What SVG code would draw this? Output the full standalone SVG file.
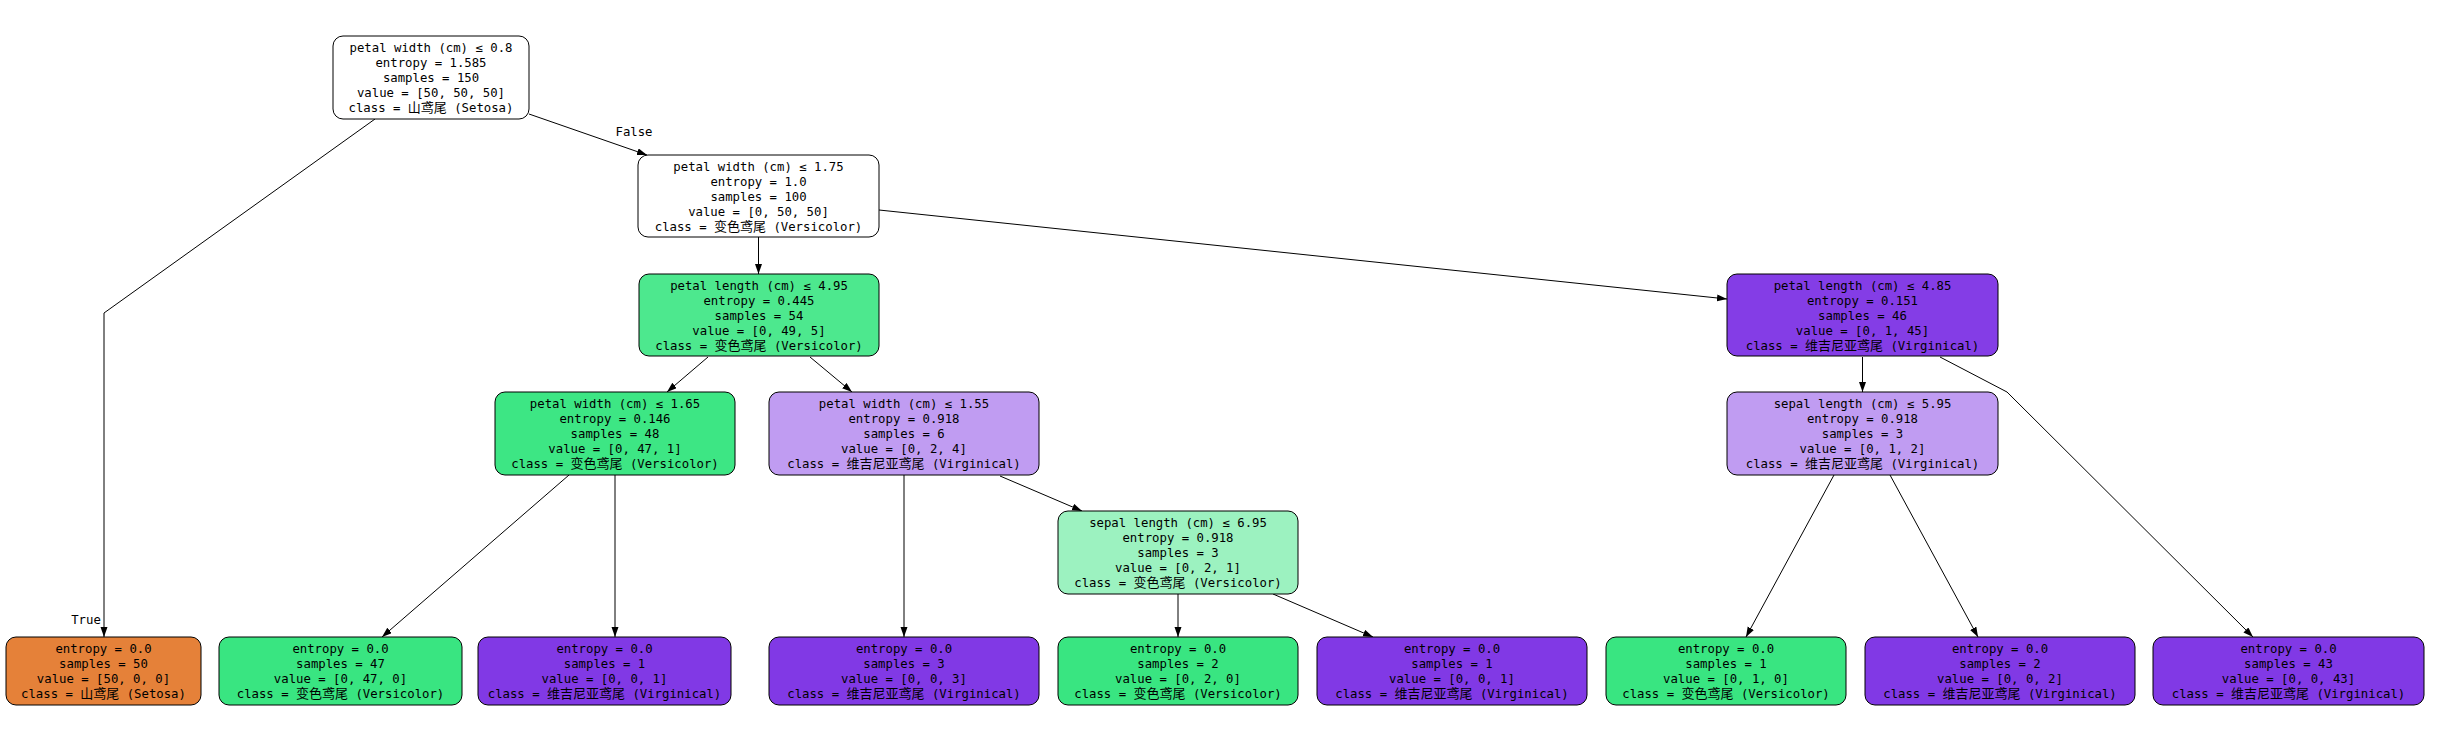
<svg xmlns="http://www.w3.org/2000/svg" width="2440" height="745" viewBox="0 0 2440 745">
<style>
.b{stroke:#000;stroke-width:1}
.t{font-family:"DejaVu Sans Mono","Liberation Mono","Noto Sans CJK SC",monospace;font-size:12.3px;text-anchor:middle;fill:#000}
.c{font-family:"Noto Sans CJK SC",sans-serif;font-size:13px}
.e{stroke:#000;stroke-width:1;fill:none;marker-end:url(#ah)}
</style>
<defs>
<marker id="ah" markerUnits="userSpaceOnUse" markerWidth="11" markerHeight="8" refX="10" refY="3.5" orient="auto"><path d="M0,0 L10,3.5 L0,7 z" fill="#000"/></marker>
</defs>
<rect width="2440" height="745" fill="#fff"/>
<g id="edges">
<line class="e" x1="529" y1="114" x2="647" y2="155"/>
<polyline class="e" points="375,119 104,313 104,637"/>
<line class="e" x1="758.5" y1="237" x2="758.5" y2="274"/>
<line class="e" x1="879" y1="210" x2="1727" y2="299"/>
<line class="e" x1="708" y1="357" x2="667" y2="392"/>
<line class="e" x1="810" y1="357" x2="852" y2="392"/>
<line class="e" x1="569" y1="475" x2="382" y2="637"/>
<line class="e" x1="615" y1="475" x2="615" y2="637"/>
<line class="e" x1="904" y1="475" x2="904" y2="637"/>
<line class="e" x1="1000" y1="476" x2="1082" y2="511"/>
<line class="e" x1="1178" y1="594" x2="1178" y2="637"/>
<line class="e" x1="1273" y1="594" x2="1373" y2="637"/>
<line class="e" x1="1862.5" y1="357" x2="1862.5" y2="392"/>
<polyline class="e" points="1940,357 2007,392 2253,637"/>
<line class="e" x1="1834" y1="475" x2="1746" y2="637"/>
<line class="e" x1="1890" y1="475" x2="1978" y2="637"/>
<text class="t" x="634" y="136">False</text>
<text class="t" x="86" y="624">True</text>
</g>
<g id="n0">
<rect class="b" x="333" y="36" width="196" height="83" rx="10" fill="#ffffff"/>
<text class="t" x="431" y="51.5">petal width (cm) ≤ 0.8</text>
<text class="t" x="431" y="66.5">entropy = 1.585</text>
<text class="t" x="431" y="81.5">samples = 150</text>
<text class="t" x="431" y="96.5">value = [50, 50, 50]</text>
<text class="t" x="431" y="111.5">class = <tspan class="c">山鸢尾</tspan> (Setosa)</text>
</g>
<g id="n2">
<rect class="b" x="638" y="155" width="241" height="82" rx="10" fill="#ffffff"/>
<text class="t" x="758.5" y="170.5">petal width (cm) ≤ 1.75</text>
<text class="t" x="758.5" y="185.5">entropy = 1.0</text>
<text class="t" x="758.5" y="200.5">samples = 100</text>
<text class="t" x="758.5" y="215.5">value = [0, 50, 50]</text>
<text class="t" x="758.5" y="230.5">class = <tspan class="c">变色鸢尾</tspan> (Versicolor)</text>
</g>
<g id="n3">
<rect class="b" x="639" y="274" width="240" height="82" rx="10" fill="#4de88e"/>
<text class="t" x="759" y="289.5">petal length (cm) ≤ 4.95</text>
<text class="t" x="759" y="304.5">entropy = 0.445</text>
<text class="t" x="759" y="319.5">samples = 54</text>
<text class="t" x="759" y="334.5">value = [0, 49, 5]</text>
<text class="t" x="759" y="349.5">class = <tspan class="c">变色鸢尾</tspan> (Versicolor)</text>
</g>
<g id="n12">
<rect class="b" x="1727" y="274" width="271" height="82" rx="10" fill="#843de6"/>
<text class="t" x="1862.5" y="289.5">petal length (cm) ≤ 4.85</text>
<text class="t" x="1862.5" y="304.5">entropy = 0.151</text>
<text class="t" x="1862.5" y="319.5">samples = 46</text>
<text class="t" x="1862.5" y="334.5">value = [0, 1, 45]</text>
<text class="t" x="1862.5" y="349.5">class = <tspan class="c">维吉尼亚鸢尾</tspan> (Virginical)</text>
</g>
<g id="n4">
<rect class="b" x="495" y="392" width="240" height="83" rx="10" fill="#3de684"/>
<text class="t" x="615" y="407.5">petal width (cm) ≤ 1.65</text>
<text class="t" x="615" y="422.5">entropy = 0.146</text>
<text class="t" x="615" y="437.5">samples = 48</text>
<text class="t" x="615" y="452.5">value = [0, 47, 1]</text>
<text class="t" x="615" y="467.5">class = <tspan class="c">变色鸢尾</tspan> (Versicolor)</text>
</g>
<g id="n7">
<rect class="b" x="769" y="392" width="270" height="83" rx="10" fill="#c09cf2"/>
<text class="t" x="904" y="407.5">petal width (cm) ≤ 1.55</text>
<text class="t" x="904" y="422.5">entropy = 0.918</text>
<text class="t" x="904" y="437.5">samples = 6</text>
<text class="t" x="904" y="452.5">value = [0, 2, 4]</text>
<text class="t" x="904" y="467.5">class = <tspan class="c">维吉尼亚鸢尾</tspan> (Virginical)</text>
</g>
<g id="n13">
<rect class="b" x="1727" y="392" width="271" height="83" rx="10" fill="#c09cf2"/>
<text class="t" x="1862.5" y="407.5">sepal length (cm) ≤ 5.95</text>
<text class="t" x="1862.5" y="422.5">entropy = 0.918</text>
<text class="t" x="1862.5" y="437.5">samples = 3</text>
<text class="t" x="1862.5" y="452.5">value = [0, 1, 2]</text>
<text class="t" x="1862.5" y="467.5">class = <tspan class="c">维吉尼亚鸢尾</tspan> (Virginical)</text>
</g>
<g id="n9">
<rect class="b" x="1058" y="511" width="240" height="83" rx="10" fill="#9cf2c0"/>
<text class="t" x="1178" y="526.5">sepal length (cm) ≤ 6.95</text>
<text class="t" x="1178" y="541.5">entropy = 0.918</text>
<text class="t" x="1178" y="556.5">samples = 3</text>
<text class="t" x="1178" y="571.5">value = [0, 2, 1]</text>
<text class="t" x="1178" y="586.5">class = <tspan class="c">变色鸢尾</tspan> (Versicolor)</text>
</g>
<g id="n1">
<rect class="b" x="6" y="637" width="195" height="68" rx="10" fill="#e58139"/>
<text class="t" x="103.5" y="652.5">entropy = 0.0</text>
<text class="t" x="103.5" y="667.5">samples = 50</text>
<text class="t" x="103.5" y="682.5">value = [50, 0, 0]</text>
<text class="t" x="103.5" y="697.5">class = <tspan class="c">山鸢尾</tspan> (Setosa)</text>
</g>
<g id="n5">
<rect class="b" x="219" y="637" width="243" height="68" rx="10" fill="#39e581"/>
<text class="t" x="340.5" y="652.5">entropy = 0.0</text>
<text class="t" x="340.5" y="667.5">samples = 47</text>
<text class="t" x="340.5" y="682.5">value = [0, 47, 0]</text>
<text class="t" x="340.5" y="697.5">class = <tspan class="c">变色鸢尾</tspan> (Versicolor)</text>
</g>
<g id="n6">
<rect class="b" x="478" y="637" width="253" height="68" rx="10" fill="#8139e5"/>
<text class="t" x="604.5" y="652.5">entropy = 0.0</text>
<text class="t" x="604.5" y="667.5">samples = 1</text>
<text class="t" x="604.5" y="682.5">value = [0, 0, 1]</text>
<text class="t" x="604.5" y="697.5">class = <tspan class="c">维吉尼亚鸢尾</tspan> (Virginical)</text>
</g>
<g id="n8">
<rect class="b" x="769" y="637" width="270" height="68" rx="10" fill="#8139e5"/>
<text class="t" x="904" y="652.5">entropy = 0.0</text>
<text class="t" x="904" y="667.5">samples = 3</text>
<text class="t" x="904" y="682.5">value = [0, 0, 3]</text>
<text class="t" x="904" y="697.5">class = <tspan class="c">维吉尼亚鸢尾</tspan> (Virginical)</text>
</g>
<g id="n10">
<rect class="b" x="1058" y="637" width="240" height="68" rx="10" fill="#39e581"/>
<text class="t" x="1178" y="652.5">entropy = 0.0</text>
<text class="t" x="1178" y="667.5">samples = 2</text>
<text class="t" x="1178" y="682.5">value = [0, 2, 0]</text>
<text class="t" x="1178" y="697.5">class = <tspan class="c">变色鸢尾</tspan> (Versicolor)</text>
</g>
<g id="n11">
<rect class="b" x="1317" y="637" width="270" height="68" rx="10" fill="#8139e5"/>
<text class="t" x="1452" y="652.5">entropy = 0.0</text>
<text class="t" x="1452" y="667.5">samples = 1</text>
<text class="t" x="1452" y="682.5">value = [0, 0, 1]</text>
<text class="t" x="1452" y="697.5">class = <tspan class="c">维吉尼亚鸢尾</tspan> (Virginical)</text>
</g>
<g id="n14">
<rect class="b" x="1606" y="637" width="240" height="68" rx="10" fill="#39e581"/>
<text class="t" x="1726" y="652.5">entropy = 0.0</text>
<text class="t" x="1726" y="667.5">samples = 1</text>
<text class="t" x="1726" y="682.5">value = [0, 1, 0]</text>
<text class="t" x="1726" y="697.5">class = <tspan class="c">变色鸢尾</tspan> (Versicolor)</text>
</g>
<g id="n15">
<rect class="b" x="1865" y="637" width="270" height="68" rx="10" fill="#8139e5"/>
<text class="t" x="2000" y="652.5">entropy = 0.0</text>
<text class="t" x="2000" y="667.5">samples = 2</text>
<text class="t" x="2000" y="682.5">value = [0, 0, 2]</text>
<text class="t" x="2000" y="697.5">class = <tspan class="c">维吉尼亚鸢尾</tspan> (Virginical)</text>
</g>
<g id="n16">
<rect class="b" x="2153" y="637" width="271" height="68" rx="10" fill="#8139e5"/>
<text class="t" x="2288.5" y="652.5">entropy = 0.0</text>
<text class="t" x="2288.5" y="667.5">samples = 43</text>
<text class="t" x="2288.5" y="682.5">value = [0, 0, 43]</text>
<text class="t" x="2288.5" y="697.5">class = <tspan class="c">维吉尼亚鸢尾</tspan> (Virginical)</text>
</g>
</svg>
